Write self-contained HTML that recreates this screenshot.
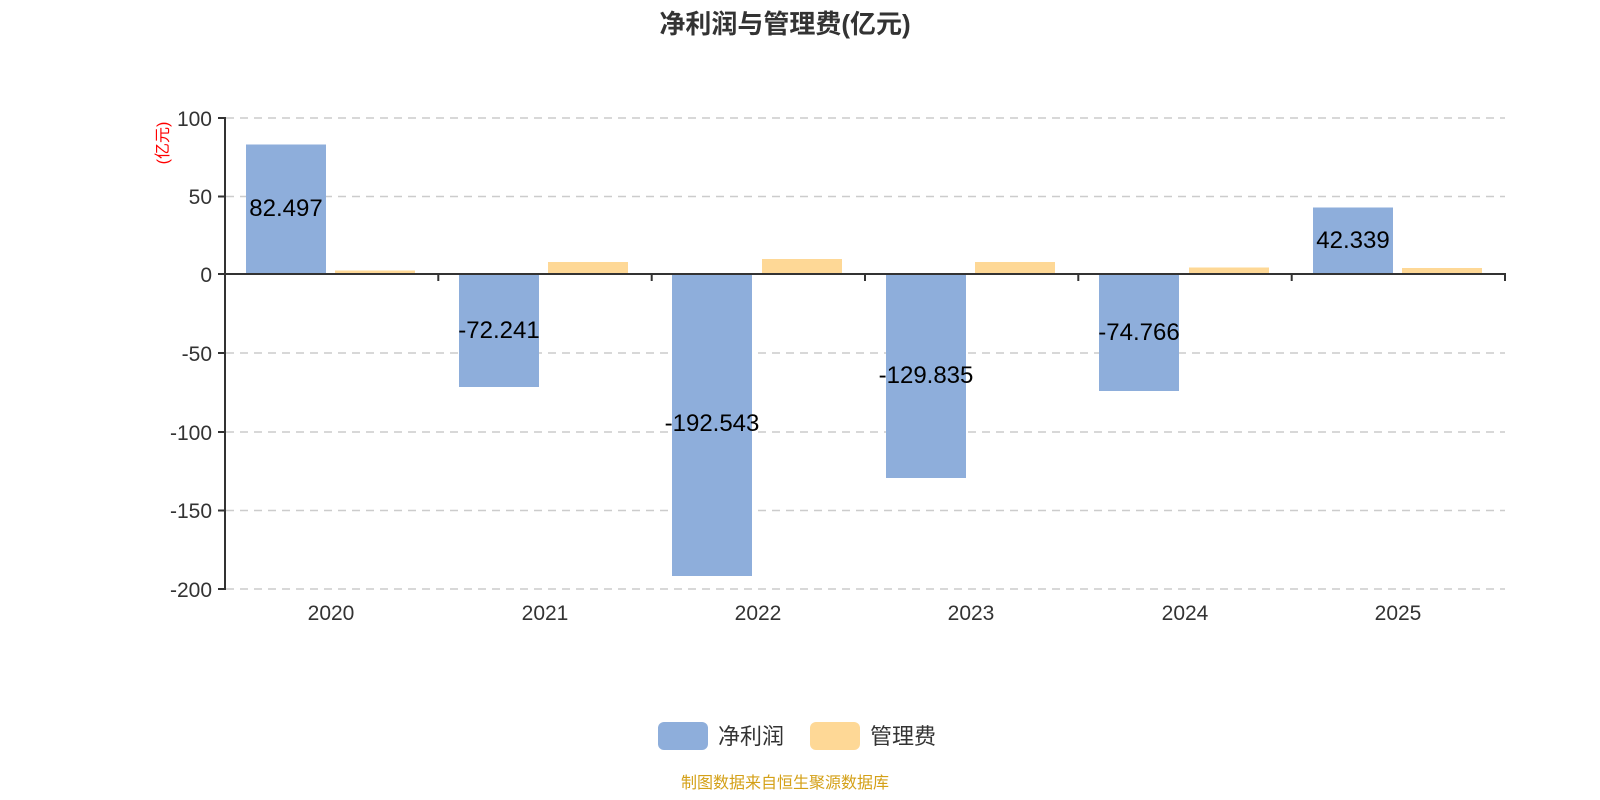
<!DOCTYPE html>
<html><head><meta charset="utf-8"><style>body{margin:0;background:#fff}svg{display:block}text{font-family:"Liberation Sans","Noto Sans CJK SC",sans-serif}</style></head><body>
<svg width="1600" height="800" xmlns="http://www.w3.org/2000/svg">
<text x="785" y="33" text-anchor="middle" font-size="26" font-weight="bold" fill="#333">净利润与管理费(亿元)</text>
<g stroke="#ccc" stroke-width="1.5" stroke-dasharray="8,6">
<line x1="226" y1="118" x2="1505" y2="118"/><line x1="226" y1="196.5" x2="1505" y2="196.5"/><line x1="226" y1="353" x2="1505" y2="353"/><line x1="226" y1="432" x2="1505" y2="432"/><line x1="226" y1="510.5" x2="1505" y2="510.5"/><line x1="226" y1="589" x2="1505" y2="589"/>
</g>
<g font-size="21" fill="#333" text-anchor="end">
<text x="212" y="126">100</text><text x="212" y="204">50</text><text x="212" y="282">0</text><text x="212" y="361">-50</text><text x="212" y="440">-100</text><text x="212" y="518">-150</text><text x="212" y="597">-200</text>
</g>
<text transform="translate(168,143) rotate(-90)" text-anchor="middle" font-size="16" fill="#f00">(亿元)</text>
<g fill="#8eaedb">
<rect x="246" y="144.5" width="80" height="129.5"/>
<rect x="459" y="274" width="80" height="113"/>
<rect x="672" y="274" width="80" height="302"/>
<rect x="886" y="274" width="80" height="204"/>
<rect x="1099" y="274" width="80" height="117"/>
<rect x="1313" y="207.5" width="80" height="66.5"/>
</g>
<g fill="#fed896">
<rect x="335" y="270.5" width="80" height="3.5"/>
<rect x="548" y="262" width="80" height="12"/>
<rect x="762" y="259" width="80" height="15"/>
<rect x="975" y="262" width="80" height="12"/>
<rect x="1189" y="267.5" width="80" height="6.5"/>
<rect x="1402" y="268" width="80" height="6"/>
</g>
<g font-size="24" fill="#000" text-anchor="middle">
<text x="286" y="216">82.497</text>
<text x="499" y="338">-72.241</text>
<text x="712" y="431">-192.543</text>
<text x="926" y="383">-129.835</text>
<text x="1139" y="340">-74.766</text>
<text x="1353" y="248">42.339</text>
</g>
<g stroke="#333" stroke-width="2">
<line x1="225" y1="117" x2="225" y2="590"/>
<line x1="218" y1="118" x2="225" y2="118"/><line x1="218" y1="196.5" x2="225" y2="196.5"/><line x1="218" y1="274" x2="225" y2="274"/><line x1="218" y1="353" x2="225" y2="353"/><line x1="218" y1="432" x2="225" y2="432"/><line x1="218" y1="510.5" x2="225" y2="510.5"/><line x1="218" y1="589" x2="225" y2="589"/>
<line x1="225" y1="274" x2="1506" y2="274"/>
<line x1="438.3" y1="274" x2="438.3" y2="281"/><line x1="651.7" y1="274" x2="651.7" y2="281"/><line x1="865" y1="274" x2="865" y2="281"/><line x1="1078.3" y1="274" x2="1078.3" y2="281"/><line x1="1291.7" y1="274" x2="1291.7" y2="281"/><line x1="1505" y1="274" x2="1505" y2="281"/>
</g>
<g font-size="21" fill="#333" text-anchor="middle">
<text x="331" y="620">2020</text><text x="545" y="620">2021</text><text x="758" y="620">2022</text><text x="971" y="620">2023</text><text x="1185" y="620">2024</text><text x="1398" y="620">2025</text>
</g>
<rect x="658" y="722" width="50" height="28" rx="6" fill="#8eaedb"/>
<text x="718" y="744" font-size="22" fill="#333">净利润</text>
<rect x="810" y="722" width="50" height="28" rx="6" fill="#fed896"/>
<text x="870" y="744" font-size="22" fill="#333">管理费</text>
<text x="785" y="788" text-anchor="middle" font-size="16" fill="#d4a017">制图数据来自恒生聚源数据库</text>
</svg>
</body></html>
